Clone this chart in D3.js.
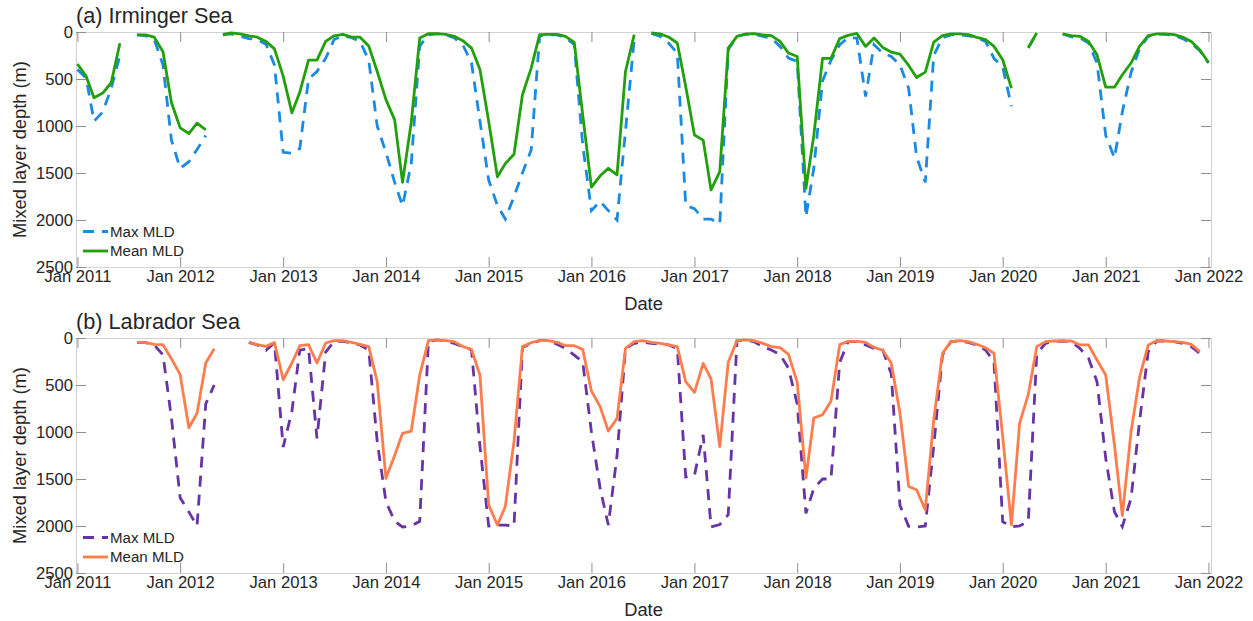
<!DOCTYPE html>
<html>
<head>
<meta charset="utf-8">
<script src="https://cdn.jsdelivr.net/npm/d3@7"></script>
<style>
	body { margin: 0; background: #fff; }
	text { font-family: 'Liberation Sans', Arial, Helvetica, sans-serif; fill: #262626; }
</style>
</head>
<body>
<svg id="chart" width="1253" height="621"></svg>
<script>
// monthly values, Jan 2011 .. Jan 2022 (null = no data)
const firstMonth = new Date(2011, 0, 1);
const tickYears = [2011, 2012, 2013, 2014, 2015, 2016, 2017, 2018, 2019, 2020, 2021, 2022];
const depthTicks = [0, 500, 1000, 1500, 2000, 2500];

const irmingerMax = [
	400, 490, 950, 850, 600, 250, null, 30, 40, 80, 350, 1150,
	1450, 1380, 1250, 1100, null, 30, 20, 45, 70, 80, 130, 350,
	1280, 1290, 1240, 500, 420, 280, 80, 40, 60, 100, 300, 1000,
	1280, 1600, 1850, 1400, 150, 30, 20, 30, 64, 135, 330, 950,
	1575, 1845, 1990, 1750, 1500, 1255, 40, 30, 30, 60, 135, 1200,
	1900, 1800, 1900, 2000, 1050, 80, null, 15, 46, 117, 224, 1845,
	1880, 1990, 1990, 2040, 190, 46, 25, 25, 46, 64, 153, 277,
	313, 1966, 1450, 520, 300, 135, 60, 64, 686, 135, 224, 260,
	349, 600, 1326, 1600, 250, 60, 30, 30, 40, 60, 100, 280,
	370, 790, null, 170, 10, null, null, 21, 53, 64, 117, 330,
	1100, 1340, 850, 430, 180, 46, 21, 25, 35, 70, 120, 200,
	330
];
const irmingerMean = [
	340, 470, 700, 650, 540, 120, null, 30, 30, 55, 210, 750,
	1020, 1080, 970, 1040, null, 25, 10, 20, 40, 55, 100, 180,
	470, 860, 640, 300, 300, 100, 40, 25, 55, 55, 150, 420,
	720, 935, 1600, 960, 64, 18, 18, 25, 46, 92, 171, 400,
	950, 1540, 1400, 1300, 668, 384, 28, 25, 25, 46, 110, 880,
	1650, 1530, 1450, 1520, 420, 28, null, 10, 20, 53, 117, 580,
	1095, 1150, 1680, 1486, 171, 46, 21, 18, 32, 39, 100, 224,
	260, 1665, 1100, 280, 280, 71, 36, 15, 153, 64, 164, 213,
	235, 356, 484, 427, 107, 39, 21, 21, 28, 57, 82, 153,
	295, 597, null, 165, 10, null, null, 21, 39, 46, 100, 242,
	587, 587, 455, 330, 153, 39, 21, 21, 28, 53, 100, 188,
	324
];
const labradorMax = [
	null, null, null, null, null, null, null, 50, 50, 75, 180, 850,
	1700, 1850, 2000, 700, 500, null, null, null, 46, 74, 130, 50,
	1160, 780, 130, 110, 1067, 150, 35, 35, 50, 74, 128, 1100,
	1740, 1950, 2010, 2000, 1950, 39, 21, 32, 57, 92, 128, 1150,
	2000, 1990, 1990, 2000, 100, 57, 28, 28, 67, 110, 181, 252,
	1000, 1600, 1989, 1250, 110, 57, 46, 57, 67, 74, 110, 1480,
	1460, 1030, 2010, 1985, 1880, 30, 21, 39, 92, 128, 174, 323,
	700, 1865, 1600, 1500, 1500, 260, 39, 39, 74, 110, 128, 380,
	1780, 2004, 2010, 2000, 1150, 181, 39, 32, 46, 74, 128, 250,
	1954, 2007, 2000, 1950, 170, 57, 39, 32, 39, 110, 216, 465,
	1280, 1848, 2007, 1705, 890, 145, 32, 32, 39, 57, 92, 163,
	null
];
const labradorMean = [
	null, null, null, null, null, null, null, 46, 50, 67, 71, 220,
	390, 955, 800, 266, 115, null, null, null, 45, 71, 89, 47,
	444, 266, 82, 71, 266, 53, 28, 28, 46, 67, 92, 465,
	1493, 1250, 1014, 990, 394, 28, 21, 28, 39, 92, 121, 394,
	1777, 1989, 1794, 1100, 92, 50, 28, 28, 46, 82, 82, 121,
	564, 730, 990, 855, 110, 39, 28, 46, 57, 74, 92, 465,
	578, 270, 436, 1156, 259, 28, 21, 28, 57, 92, 103, 174,
	470, 1489, 851, 816, 674, 71, 36, 36, 47, 100, 130, 266,
	798, 1579, 1614, 1827, 870, 163, 39, 28, 39, 67, 103, 163,
	1050, 1989, 908, 600, 92, 39, 32, 32, 32, 74, 74, 234,
	394, 1138, 1890, 996, 422, 74, 28, 32, 39, 46, 67, 145,
	null
];

const months = d3.timeMonth.range(firstMonth, d3.timeMonth.offset(firstMonth, irmingerMax.length));

const panels = [
	{ title: '(a) Irminger Sea', top: 32, max: irmingerMax, mean: irmingerMean, maxColor: '#1b8ae2', meanColor: '#22a00c' },
	{ title: '(b) Labrador Sea', top: 338, max: labradorMax, mean: labradorMean, maxColor: '#6734a6', meanColor: '#ff7d4d' },
];

// set the dimensions and margins of the graph
const left = 76, width = 1135, height = 235;

const svg = d3.select('#chart');

const x = d3.scaleTime()
	.domain([new Date(2010, 11, 27), new Date(2022, 0, 10)])
	.range([0, width]);
const y = d3.scaleLinear().domain([0, 2500]).range([0, height]);
const tickDates = tickYears.map((yr) => new Date(yr, 0, 1));

const line = (values) => d3.line()
	.defined((d, i) => values[i] != null)
	.x((d) => x(d))
	.y((d, i) => y(values[i]))(months);

panels.forEach((p) => {
	const g = svg.append('g').attr('transform', `translate(${left},${p.top})`);

	// axes, MATLAB style: ticks pointing in, box all round
	const styleAxis = (sel) => {
		sel.select('.domain').attr('stroke', '#d2d2d2');
		sel.selectAll('.tick line').attr('stroke', '#8f8f8f');
		sel.selectAll('text').style('font-size', '16.6px').attr('fill', '#262626');
	};
	g.append('g')
		.attr('transform', `translate(0,${height})`)
		.call(d3.axisBottom(x).tickValues(tickDates).tickFormat(d3.timeFormat('Jan %Y'))
			.tickSizeInner(-10).tickSizeOuter(0).tickPadding(3))
		.call(styleAxis);
	g.append('g')
		.call(d3.axisTop(x).tickValues(tickDates).tickFormat('').tickSizeInner(-10).tickSizeOuter(0))
		.call(styleAxis);
	g.append('g')
		.call(d3.axisLeft(y).tickValues(depthTicks).tickFormat(d3.format('d'))
			.tickSizeInner(-10).tickSizeOuter(0).tickPadding(3))
		.call(styleAxis);
	g.append('g')
		.attr('transform', `translate(${width},0)`)
		.call(d3.axisRight(y).tickValues(depthTicks).tickFormat('').tickSizeInner(-10).tickSizeOuter(0))
		.call(styleAxis);

	// lines: max dashed underneath, mean solid on top
	g.append('path')
		.attr('d', line(p.max))
		.attr('fill', 'none')
		.attr('stroke', p.maxColor)
		.attr('stroke-width', 2.8)
		.attr('stroke-dasharray', '11,8');
	g.append('path')
		.attr('d', line(p.mean))
		.attr('fill', 'none')
		.attr('stroke', p.meanColor)
		.attr('stroke-width', 2.8)
		.attr('stroke-linejoin', 'round');

	// labels
	svg.append('text')
		.attr('x', left)
		.attr('y', p.top - 9)
		.style('font-size', '21.7px')
		.text(p.title);
	svg.append('text')
		.attr('transform', `translate(26,${p.top + height / 2}) rotate(-90)`)
		.attr('text-anchor', 'middle')
		.style('font-size', '18.3px')
		.text('Mixed layer depth (m)');
	svg.append('text')
		.attr('x', left + width / 2)
		.attr('y', p.top + height + 43)
		.attr('text-anchor', 'middle')
		.style('font-size', '18.3px')
		.text('Date');

	// legend
	const legend = [
		{ name: 'Max MLD', color: p.maxColor, dash: '11,8', dy: 199.5 },
		{ name: 'Mean MLD', color: p.meanColor, dash: null, dy: 219 },
	];
	legend.forEach((l) => {
		g.append('line')
			.attr('x1', 7).attr('x2', 32)
			.attr('y1', l.dy).attr('y2', l.dy)
			.attr('stroke', l.color)
			.attr('stroke-width', 2.8)
			.attr('stroke-dasharray', l.dash);
		g.append('text')
			.attr('x', 34)
			.attr('y', l.dy + 5.3)
			.style('font-size', '15.1px')
			.text(l.name);
	});
});
</script>
</body>
</html>
